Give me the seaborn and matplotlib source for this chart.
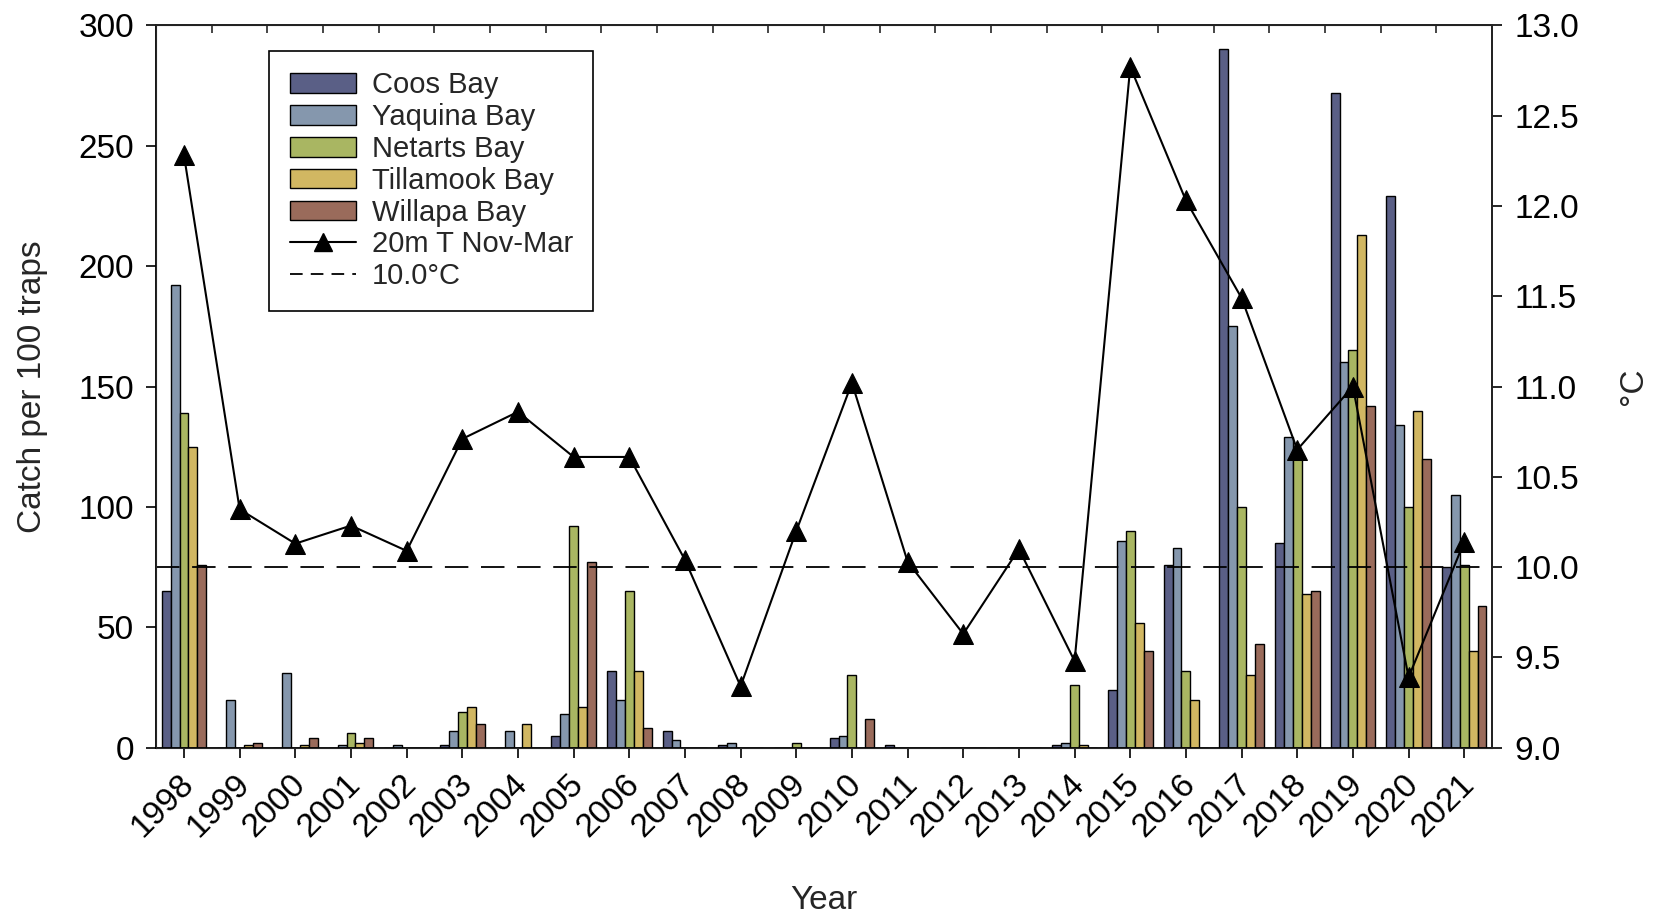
import numpy as np
import pandas as pd
import matplotlib
matplotlib.use("Agg")
import matplotlib.pyplot as plt
import matplotlib.transforms as mtransforms
import seaborn as sns
from matplotlib.patches import Patch
from matplotlib.lines import Line2D

years = [str(y) for y in range(1998, 2022)]
bays = ["Coos Bay", "Yaquina Bay", "Netarts Bay", "Tillamook Bay", "Willapa Bay"]
coos = [65, 0, 0, 0, 0, 1, 0, 5, 32, 7, 1, 0, 4, 1, 0, 0, 1, 24, 76, 290, 85, 272, 229, 75]
yaquina = [192, 20, 31, 1, 1, 7, 7, 14, 20, 3, 2, 0, 5, 0, 0, 0, 2, 86, 83, 175, 129, 160, 134, 105]
netarts = [139, 0, 0, 6, 0, 15, 0, 92, 65, 0, 0, 2, 30, 0, 0, 0, 26, 90, 32, 100, 122, 165, 100, 76]
tillamook = [125, 1, 1, 2, 0, 17, 10, 17, 32, 0, 0, 0, 0, 0, 0, 0, 1, 52, 20, 30, 64, 213, 140, 40]
willapa = [76, 2, 4, 4, 0, 10, 0, 77, 8, 0, 0, 0, 12, 0, 0, 0, 0, 40, 0, 43, 65, 142, 120, 59]
temp = [12.28, 10.32, 10.13, 10.23, 10.09, 10.71, 10.86, 10.61, 10.61, 10.04, 9.34, 10.20,
        11.02, 10.03, 9.63, 10.10, 9.48, 12.77, 12.03, 11.49, 10.65, 11.00, 9.39, 10.14]
threshold = 10.0
colors = ["#5a5f86", "#8597ad", "#a9b662", "#d1b762", "#9a6b5b"]

series = [coos, yaquina, netarts, tillamook, willapa]
rows = []
for bay, vals in zip(bays, series):
    for yr, v in zip(years, vals):
        rows.append({"Year": yr, "Bay": bay, "Catch": v})
df = pd.DataFrame(rows)

sns.set_style("ticks")
plt.rcParams["font.family"] = ["Liberation Sans", "DejaVu Sans"]

FS = 24
fig = plt.figure(figsize=(16.56, 9.17), dpi=100)
ax = fig.add_axes([0.0943, 0.1846, 0.8067, 0.7878])

sns.barplot(data=df, x="Year", y="Catch", hue="Bay", order=years, hue_order=bays,
            palette=colors, width=0.8, edgecolor="black", linewidth=1.0,
            saturation=1, legend=False, ax=ax)
ax.set_xlim(-0.5, len(years) - 0.5)
ax.set_ylim(0, 300)
ax.set_yticks([0, 50, 100, 150, 200, 250, 300])
ax.set_xlabel("Year", fontsize=FS, labelpad=30)
ax.set_ylabel("Catch per 100 traps", fontsize=FS, labelpad=22)
ax.tick_params(axis="both", labelsize=FS, length=7, width=1.2, direction="out", colors="black")
ax.tick_params(axis="y", pad=9)
ax.set_xticks(range(len(years)))
ax.set_xticklabels(years, rotation=45, ha="right", rotation_mode="anchor", va="center")
ax.tick_params(axis="x", pad=16)
shift = mtransforms.ScaledTranslation(5 / 100, 0, fig.dpi_scale_trans)
for lab in ax.get_xticklabels():
    lab.set_transform(lab.get_transform() + shift)
for s in ax.spines.values():
    s.set_visible(True)
    s.set_linewidth(1.3)
    s.set_color("black")

top = ax.secondary_xaxis("top")
top.set_xticks(np.arange(len(years) - 1) + 0.5)
top.set_xticklabels([])
top.tick_params(direction="in", length=6, width=1.2)

ax2 = ax.twinx()
xpos = np.arange(len(years))
sns.lineplot(x=xpos, y=temp, ax=ax2, color="black", linewidth=1.5, marker="^",
             markersize=14, markeredgecolor="black", markerfacecolor="black", sort=False)
ax2.axhline(threshold, color="black", linewidth=1.3, linestyle=(0, (13, 7)))
ax2.set_ylim(9.0, 13.0)
ax2.set_yticks(np.arange(9.0, 13.01, 0.5))
ax2.set_yticklabels([f"{v:.1f}" for v in np.arange(9.0, 13.01, 0.5)])
ax2.tick_params(axis="y", labelsize=FS, length=7, width=1.2, direction="out", colors="black", pad=9)
ax2.set_ylabel("°C", fontsize=FS, labelpad=28)
ax2.spines["right"].set_linewidth(1.3)
ax2.spines["top"].set_linewidth(1.3)

handles = [Patch(facecolor=c, edgecolor="black", linewidth=1.0, label=b) for c, b in zip(colors, bays)]
handles.append(Line2D([0], [0], color="black", linewidth=1.5, marker="^", markersize=13,
                      label="20m T Nov-Mar"))
handles.append(Line2D([0], [0], color="black", linewidth=1.3, linestyle=(0, (7, 4.5)),
                      label="10.0°C"))
leg = ax2.legend(handles=handles, loc="upper left", bbox_to_anchor=(0.0846, 0.9644),
                 fontsize=21, frameon=True, fancybox=False, edgecolor="black",
                 framealpha=1, handlelength=2.26, handleheight=0.65, labelspacing=0.13,
                 borderpad=0.7, handletextpad=0.55, borderaxespad=0)
leg.get_frame().set_linewidth(1.2)

fig.savefig("out.png", dpi=100)
